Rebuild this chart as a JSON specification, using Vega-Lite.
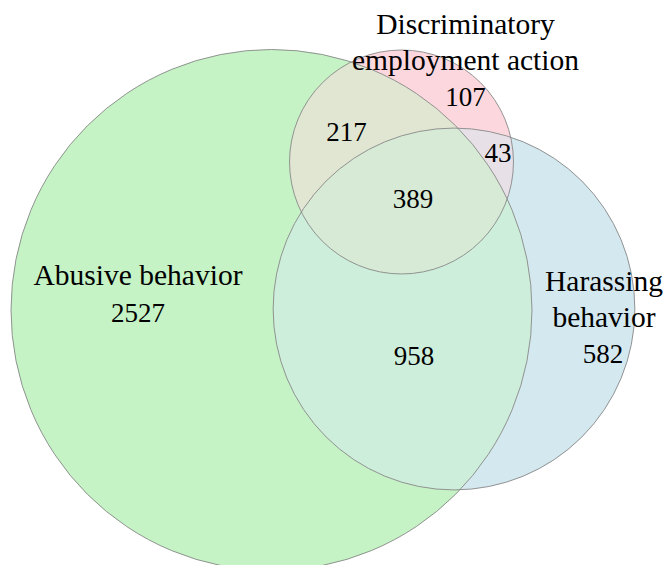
{
  "$schema": "https://vega.github.io/schema/vega-lite/v6.json",
  "width": 667,
  "height": 565,
  "padding": 0,
  "autosize": {"type": "none"},
  "background": "white",
  "config": {"view": {"stroke": null}},
  "datasets": {
    "sets": [
      {"set": "Abusive behavior", "total": 4091, "cx": 2.715, "cy": 3.10},
      {"set": "Harassing behavior", "total": 1972, "cx": 4.54, "cy": 3.09},
      {"set": "Discriminatory employment action", "total": 756, "cx": 4.015, "cy": 1.62}
    ],
    "setlabels": [
      {"label": "Abusive behavior", "lx": 1.38, "ly": 2.85},
      {"label": "Harassing\nbehavior", "lx": 6.04, "ly": 2.91},
      {"label": "Discriminatory\nemployment action", "lx": 4.655, "ly": 0.34}
    ],
    "regions": [
      {"region": "Abusive only", "count": 2527, "lx": 1.38, "ly": 3.22},
      {"region": "Harassing only", "count": 582, "lx": 6.03, "ly": 3.63},
      {"region": "Discriminatory only", "count": 107, "lx": 4.655, "ly": 1.06},
      {"region": "Abusive & Harassing", "count": 958, "lx": 4.14, "ly": 3.65},
      {"region": "Abusive & Discriminatory", "count": 217, "lx": 3.465, "ly": 1.41},
      {"region": "Harassing & Discriminatory", "count": 43, "lx": 4.98, "ly": 1.62},
      {"region": "All three", "count": 389, "lx": 4.13, "ly": 2.08}
    ]
  },
  "layer": [
    {
      "data": {"name": "sets"},
      "mark": {"type": "point", "shape": "circle", "filled": true, "opacity": 1, "strokeWidth": 0},
      "encoding": {
        "x": {"field": "cx", "type": "quantitative", "axis": null, "scale": {"domain": [0, 6.67], "nice": false, "zero": false}},
        "y": {"field": "cy", "type": "quantitative", "axis": null, "scale": {"domain": [0, 5.65], "nice": false, "zero": false, "reverse": true}},
        "size": {"field": "total", "type": "quantitative", "legend": null, "scale": {"type": "linear", "domain": [0, 4091], "range": [0, 271441]}},
        "color": {"field": "set", "type": "nominal", "legend": null, "scale": {"domain": ["Abusive behavior", "Harassing behavior", "Discriminatory employment action"], "range": ["#c5f3c5", "#d4e8ef", "#fcd8de"]}}
      }
    },
    {
      "data": {"name": "sets"},
      "transform": [{"filter": "datum.set === 'Harassing behavior'"}],
      "mark": {"type": "point", "shape": "circle", "filled": true, "opacity": 0.5, "strokeWidth": 0},
      "encoding": {
        "x": {"field": "cx", "type": "quantitative"},
        "y": {"field": "cy", "type": "quantitative"},
        "size": {"field": "total", "type": "quantitative"},
        "color": {"field": "set", "type": "nominal"}
      }
    },
    {
      "data": {"name": "sets"},
      "transform": [{"filter": "datum.set === 'Abusive behavior'"}],
      "mark": {"type": "point", "shape": "circle", "filled": true, "opacity": 0.5, "strokeWidth": 0},
      "encoding": {
        "x": {"field": "cx", "type": "quantitative"},
        "y": {"field": "cy", "type": "quantitative"},
        "size": {"field": "total", "type": "quantitative"},
        "color": {"field": "set", "type": "nominal"}
      }
    },
    {
      "data": {"name": "sets"},
      "mark": {"type": "point", "shape": "circle", "filled": false, "stroke": "#8a8a8a", "strokeWidth": 1, "opacity": 0.9},
      "encoding": {
        "x": {"field": "cx", "type": "quantitative"},
        "y": {"field": "cy", "type": "quantitative"},
        "size": {"field": "total", "type": "quantitative"}
      }
    },
    {
      "data": {"name": "setlabels"},
      "mark": {"type": "text", "font": "'Liberation Serif', 'DejaVu Serif', serif", "fontSize": 29.5, "align": "center", "baseline": "alphabetic", "lineBreak": "\n", "lineHeight": 35.5, "color": "black"},
      "encoding": {
        "x": {"field": "lx", "type": "quantitative"},
        "y": {"field": "ly", "type": "quantitative"},
        "text": {"field": "label"}
      }
    },
    {
      "data": {"name": "regions"},
      "mark": {"type": "text", "font": "'Liberation Serif', 'DejaVu Serif', serif", "fontSize": 27, "align": "center", "baseline": "alphabetic", "color": "black"},
      "encoding": {
        "x": {"field": "lx", "type": "quantitative"},
        "y": {"field": "ly", "type": "quantitative"},
        "text": {"field": "count", "type": "quantitative", "format": "d"}
      }
    }
  ]
}
